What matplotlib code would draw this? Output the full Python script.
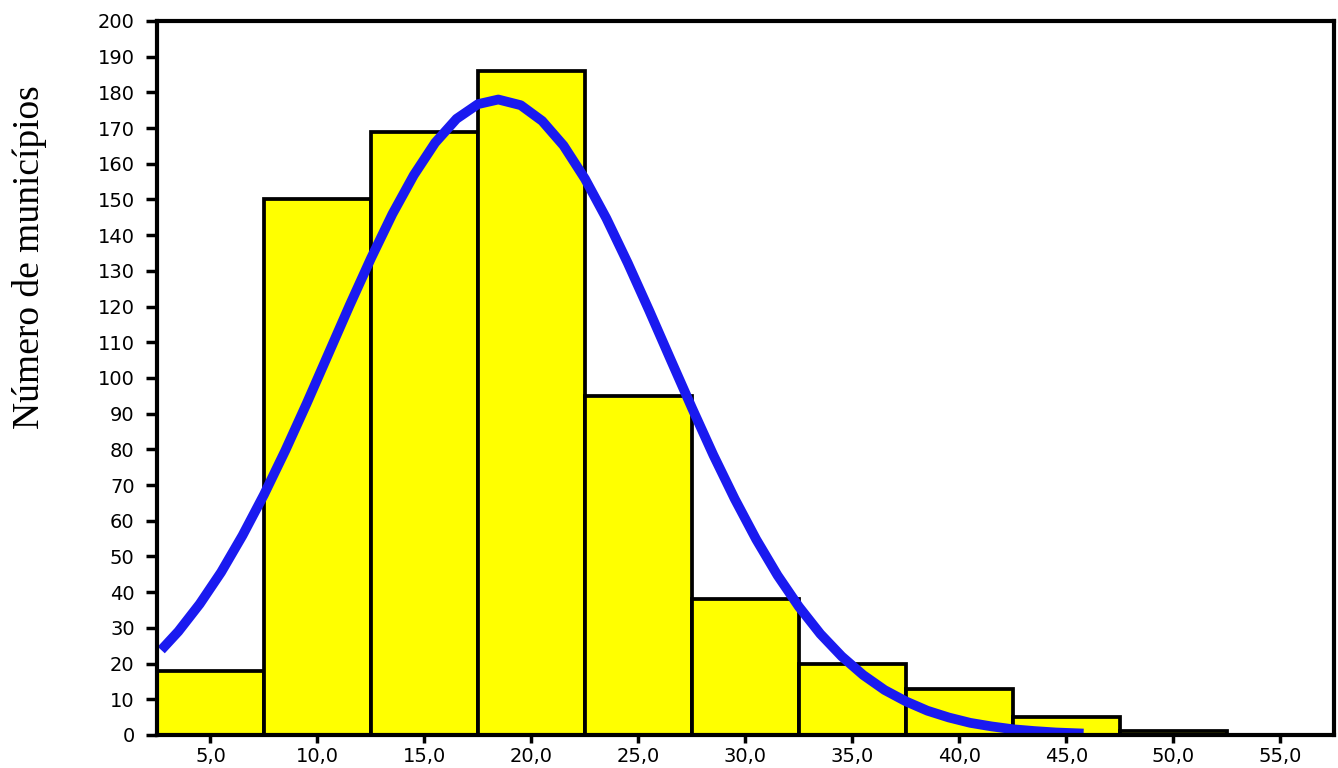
import matplotlib
matplotlib.use("Agg")
from matplotlib import pyplot as plt

# histogram bins (class centres, width 5) and counts
bin_centers = [5, 10, 15, 20, 25, 30, 35, 40, 45, 50, 55]
counts = [18, 150, 169, 186, 95, 38, 20, 13, 5, 1, 0]
tick_labels = ["5,0", "10,0", "15,0", "20,0", "25,0", "30,0", "35,0", "40,0", "45,0", "50,0", "55,0"]

# normal curve, points
curve_x = [2.7, 3.5, 4.5, 5.5, 6.5, 7.5, 8.5, 9.5, 10.5, 11.5, 12.5, 13.5, 14.5, 15.5, 16.5,
           17.5, 18.45, 19.5, 20.5, 21.5, 22.5, 23.5, 24.5, 25.5, 26.5, 27.5, 28.5, 29.5,
           30.5, 31.5, 32.5, 33.5, 34.5, 35.5, 36.5, 37.5, 38.5, 39.5, 40.5, 41.5, 42.5,
           43.5, 44.5, 45.8]
curve_y = [23.8, 29.0, 36.7, 45.6, 55.9, 67.3, 79.7, 92.9, 106.6, 120.3, 133.5, 145.9, 156.8,
           165.9, 172.6, 176.7, 178.0, 176.4, 172.0, 165.1, 155.8, 144.7, 132.2, 118.9, 105.2,
           91.6, 78.4, 66.1, 54.8, 44.7, 35.9, 28.3, 22.0, 16.8, 12.6, 9.4, 6.8, 4.9, 3.4,
           2.4, 1.6, 1.1, 0.7, 0.4]

plt.rcdefaults()
fig = plt.figure(figsize=(13.38, 7.68), dpi=100)
ax = fig.add_axes([0.1173, 0.043, 0.8797, 0.9297])

ax.bar(bin_centers, counts, width=5, color="#ffff00", edgecolor="black", linewidth=2.7, zorder=2)
ax.plot(curve_x, curve_y, color="#1a1af0", linewidth=7, solid_capstyle="butt",
        solid_joinstyle="round", zorder=3)

ax.set_xlim(2.5, 57.5)
ax.set_ylim(0, 200)
ax.set_xticks(bin_centers)
ax.set_xticklabels(tick_labels)
ax.set_yticks(range(0, 201, 10))

for s in ax.spines.values():
    s.set_linewidth(3)
    s.set_zorder(4)

ax.tick_params(axis="y", length=8, width=2.5, pad=8, labelsize=14)
ax.tick_params(axis="x", length=6, width=2.5, pad=3, labelsize=14)
for lab in ax.get_xticklabels() + ax.get_yticklabels():
    lab.set_family("DejaVu Sans")

fig.text(30 / 1338, 1 - 257 / 768, "Número de municípios", rotation=90, ha="center", va="center",
         fontsize=27, family="Liberation Serif")

fig.savefig("out.png", dpi=100)
